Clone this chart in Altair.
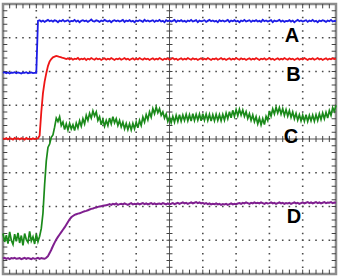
import altair as alt
import pandas as pd

# sample interval of the traces, in horizontal divisions
DT = 0.05

trace_a = [5.96,5.98,5.95,5.97,5.94,5.97,5.96,5.98,5.95,5.97,5.96,5.94,5.97,5.96,5.98,5.95,5.96,5.97,5.95,5.96,5.96,
    7.50,7.52,7.48,7.51,7.47,7.50,7.53,7.49,7.51,7.48,
    7.52,7.50,7.46,7.51,7.49,7.53,7.48,7.50,7.52,7.47,
    7.50,7.49,7.53,7.48,7.51,7.46,7.50,7.52,7.49,7.51,
    7.47,7.50,7.54,7.49,7.48,7.52,7.50,7.47,7.51,7.49,
    7.53,7.50,7.48,7.51,7.46,7.50,7.52,7.49,7.51,7.48,
    7.50,7.53,7.47,7.51,7.49,7.52,7.48,7.50,7.46,7.51,
    7.49,7.52,7.50,7.47,7.53,7.49,7.51,7.48,7.50,7.52,
    7.47,7.51,7.49,7.53,7.48,7.50,7.46,7.52,7.49,7.51,
    7.48,7.50,7.53,7.47,7.51,7.49,7.52,7.48,7.50,7.47,
    7.51,7.49,7.53,7.48,7.50,7.52,7.46,7.51,7.49,7.50,
    7.52,7.47,7.50,7.53,7.49,7.51,7.48,7.50,7.46,7.52,
    7.49,7.51,7.48,7.50,7.53,7.47,7.51,7.49,7.52,7.48,
    7.50,7.46,7.51,7.49,7.53,7.48,7.50,7.52,7.47,7.51,
    7.49,7.52,7.48,7.50,7.47,7.53,7.49,7.51,7.48,7.50,
    7.52,7.46,7.51,7.49,7.50,7.53,7.48,7.51,7.47,7.50,
    7.49,7.52,7.48,7.51,7.46,7.50,7.53,7.49,7.51,7.48,
    7.50,7.52,7.47,7.51,7.49,7.53,7.48,7.50,7.46,7.51,
    7.49,7.52,7.50,7.47,7.51,7.49,7.53,7.48,7.50,7.49]

trace_b = [4.02,4.00,4.03,3.99,4.02,4.01,3.98,4.03,4.00,4.02,3.99,4.02,4.01,3.98,4.03,4.00,4.01,3.99,4.02,4.00,4.01,4.02,
    4.10,4.80,5.36,5.70,5.95,6.16,6.30,6.37,6.42,6.44,6.46,6.45,6.43,6.42,6.40,6.39,6.37,6.39,
    6.36,6.39,6.35,6.38,6.37,6.40,6.35,6.38,6.36,6.39,
    6.34,6.38,6.36,6.40,6.37,6.35,6.39,6.36,6.38,6.34,
    6.37,6.39,6.35,6.38,6.36,6.40,6.37,6.34,6.38,6.36,
    6.39,6.35,6.37,6.40,6.36,6.38,6.34,6.37,6.39,6.35,
    6.38,6.36,6.40,6.37,6.35,6.39,6.36,6.38,6.34,6.37,
    6.39,6.35,6.38,6.36,6.40,6.37,6.34,6.38,6.36,6.39,
    6.35,6.37,6.40,6.36,6.38,6.34,6.37,6.39,6.35,6.38,
    6.36,6.40,6.37,6.35,6.39,6.36,6.38,6.34,6.37,6.39,
    6.35,6.38,6.36,6.40,6.37,6.34,6.38,6.36,6.39,6.35,
    6.37,6.40,6.36,6.38,6.34,6.37,6.39,6.35,6.38,6.36,
    6.40,6.37,6.35,6.39,6.36,6.38,6.34,6.37,6.39,6.35,
    6.38,6.36,6.40,6.37,6.34,6.38,6.36,6.39,6.35,6.37,
    6.40,6.36,6.38,6.34,6.37,6.39,6.35,6.38,6.36,6.40,
    6.37,6.35,6.39,6.36,6.38,6.34,6.37,6.39,6.35,6.38,
    6.36,6.40,6.37,6.34,6.38,6.36,6.39,6.35,6.37,6.40,
    6.36,6.38,6.34,6.37,6.39,6.35,6.38,6.36,6.39,6.37,
    6.38]

trace_c = [1.20,0.95,1.15,0.90,1.25,1.00,0.88,1.18,0.97,1.22,
    0.92,1.14,0.85,1.20,1.02,0.94,1.26,0.98,1.10,0.89,
    1.19,0.96,1.12,
    1.35,1.80,2.65,3.35,3.75,3.85,4.05,4.12,4.35,4.62,4.52,4.66,4.40,4.50,4.28,4.45,4.27,
    4.46,4.30,4.42,4.25,4.47,4.33,4.54,4.38,4.60,4.45,
    4.70,4.55,4.76,4.62,4.83,4.68,4.80,4.55,4.66,4.42,
    4.58,4.38,4.55,4.40,4.62,4.45,4.66,4.48,4.60,4.40,
    4.55,4.36,4.50,4.30,4.46,4.28,4.45,4.27,4.46,4.30,
    4.50,4.33,4.55,4.40,4.65,4.50,4.72,4.57,4.80,4.65,
    4.90,4.75,4.95,4.78,4.90,4.70,4.80,4.62,4.74,4.52,
    4.65,4.48,4.67,4.50,4.70,4.52,4.72,4.53,4.71,4.55,
    4.73,4.54,4.72,4.53,4.75,4.55,4.73,4.56,4.74,4.54,
    4.75,4.56,4.74,4.55,4.73,4.53,4.72,4.54,4.73,4.55,
    4.72,4.54,4.73,4.56,4.77,4.60,4.81,4.63,4.85,4.67,
    4.87,4.69,4.88,4.71,4.86,4.67,4.81,4.61,4.75,4.55,
    4.71,4.51,4.66,4.45,4.62,4.42,4.60,4.43,4.67,4.55,
    4.83,4.68,4.89,4.74,4.94,4.77,4.93,4.74,4.90,4.70,
    4.87,4.68,4.84,4.64,4.80,4.60,4.76,4.56,4.72,4.54,
    4.71,4.53,4.72,4.52,4.70,4.54,4.71,4.53,4.72,4.55,
    4.75,4.58,4.77,4.60,4.79,4.62,4.84,4.70,4.93,4.82,
    5.00]

trace_d = [0.46,0.48,0.45,0.47,0.44,0.47,0.46,0.48,0.45,0.46,
    0.47,0.44,0.46,0.48,0.45,0.47,0.46,0.44,0.47,0.45,
    0.46,0.48,0.45,0.47,0.46,0.45,
    0.48,0.53,0.62,0.72,0.83,0.93,1.02,1.10,1.17,1.24,
    1.31,1.38,1.46,1.54,1.62,1.68,1.72,1.75,1.77,1.79,
    1.80,1.82,1.84,1.86,1.87,1.89,1.91,1.93,1.94,1.96,
    1.97,1.99,2.00,2.01,2.02,2.03,2.04,2.05,
    2.07,2.05,2.08,2.06,2.09,2.05,2.07,2.08,2.06,2.09,
    2.07,2.05,2.08,2.10,2.06,2.08,2.07,2.09,2.06,2.08,
    2.10,2.07,2.09,2.06,2.08,2.10,2.07,2.09,2.06,2.08,
    2.09,2.07,2.10,2.08,2.06,2.09,2.07,2.08,2.10,2.07,
    2.09,2.11,2.08,2.10,2.12,2.09,2.11,2.08,2.10,2.12,
    2.09,2.11,2.13,2.10,2.12,2.09,2.11,2.08,2.10,2.07,
    2.09,2.06,2.08,2.07,2.09,2.06,2.08,2.05,2.07,2.06,
    2.08,2.05,2.07,2.09,2.06,2.08,2.07,2.09,2.10,2.08,
    2.11,2.09,2.12,2.10,2.08,2.11,2.09,2.12,2.10,2.11,
    2.09,2.12,2.10,2.08,2.11,2.09,2.10,2.12,2.09,2.11,
    2.08,2.10,2.12,2.09,2.11,2.08,2.10,2.09,2.11,2.08,
    2.10,2.12,2.09,2.11,2.08,2.10,2.12,2.09,2.11,2.13,
    2.10,2.12,2.09,2.11,2.13,2.10,2.12,2.09,2.11,2.13,
    2.10,2.12,2.11,2.13,2.10,2.12,2.11]

label_text = ["A", "B", "C", "D"]
label_x = [8.68, 8.72, 8.65, 8.74]
label_y = [6.87, 5.72, 3.88, 1.51]

trace_colors = {"A": "#1c1ce6", "B": "#ee1515", "C": "#1a8a1a", "D": "#7f1f8f"}
trace_widths = {"A": 1.8, "B": 1.8, "C": 1.7, "D": 2.0}

# oscilloscope graticule: 10 x 8 divisions, 5 minor ticks per division
N_XDIV, N_YDIV = 10, 8
grid_x = [1, 2, 3, 4, 6, 7, 8, 9]
grid_y = [1, 2, 3, 5, 6, 7]

W, H = 333, 270
xs = alt.Scale(domain=[0, N_XDIV], nice=False, zero=False)
ys = alt.Scale(domain=[0, N_YDIV], nice=False, zero=False)


def trace_df(vals):
    return pd.DataFrame({"t": [round(i * DT, 3) for i in range(len(vals))], "v": vals})


gx_df = pd.DataFrame({"gx": grid_x})
gy_df = pd.DataFrame({"gy": grid_y})

vgrid = alt.Chart(gx_df).mark_rule(color="#4a4a4a", strokeWidth=1.6, strokeDash=[1.6, 5.15],
                                   strokeDashOffset=0.8).encode(
    x=alt.X("gx:Q", scale=xs, axis=None), y=alt.value(0), y2=alt.value(H))
hgrid = alt.Chart(gy_df).mark_rule(color="#4a4a4a", strokeWidth=1.6, strokeDash=[1.6, 5.06],
                                   strokeDashOffset=0.8).encode(
    y=alt.Y("gy:Q", scale=ys, axis=None), x=alt.value(0), x2=alt.value(W))

center_v = alt.Chart(pd.DataFrame({"cx": [N_XDIV / 2]})).mark_rule(color="#555", strokeWidth=1).encode(
    x=alt.X("cx:Q", scale=xs, axis=None), y=alt.value(0), y2=alt.value(H))
center_h = alt.Chart(pd.DataFrame({"cy": [N_YDIV / 2]})).mark_rule(color="#555", strokeWidth=1).encode(
    y=alt.Y("cy:Q", scale=ys, axis=None), x=alt.value(0), x2=alt.value(W))

# minor ticks along bottom / centre / top lines
tx, ty0, ty1 = [], [], []
for k in range(1, N_XDIV * 5):
    p = k * 0.2
    for a, b in [(0, 0.13), (N_YDIV / 2 - 0.09, N_YDIV / 2 + 0.09), (N_YDIV - 0.13, N_YDIV)]:
        tx.append(p); ty0.append(a); ty1.append(b)
ticks_h = alt.Chart(pd.DataFrame({"x": tx, "y0": ty0, "y1": ty1})).mark_rule(color="#444", strokeWidth=1).encode(
    x=alt.X("x:Q", scale=xs, axis=None), y=alt.Y("y0:Q", scale=ys, axis=None), y2="y1:Q")

vy, vx0, vx1 = [], [], []
for k in range(1, N_YDIV * 5):
    p = k * 0.2
    for a, b in [(0, 0.13), (N_XDIV / 2 - 0.09, N_XDIV / 2 + 0.09), (N_XDIV - 0.13, N_XDIV)]:
        vy.append(p); vx0.append(a); vx1.append(b)
ticks_v = alt.Chart(pd.DataFrame({"y": vy, "x0": vx0, "x1": vx1})).mark_rule(color="#444", strokeWidth=1).encode(
    y=alt.Y("y:Q", scale=ys, axis=None), x=alt.X("x0:Q", scale=xs, axis=None), x2="x1:Q")

layers = [vgrid, hgrid, center_v, center_h, ticks_h, ticks_v]
for name, vals in [("A", trace_a), ("B", trace_b), ("C", trace_c), ("D", trace_d)]:
    layers.append(
        alt.Chart(trace_df(vals)).mark_line(color=trace_colors[name], strokeWidth=trace_widths[name],
                                            interpolate="linear").encode(
            x=alt.X("t:Q", scale=xs, axis=None), y=alt.Y("v:Q", scale=ys, axis=None)))

labels = alt.Chart(pd.DataFrame({"x": label_x, "y": label_y, "txt": label_text})).mark_text(
    font="Liberation Sans", fontWeight="bold", fontSize=20, color="black",
    align="center", baseline="alphabetic").encode(
    x=alt.X("x:Q", scale=xs, axis=None), y=alt.Y("y:Q", scale=ys, axis=None), text="txt:N")
layers.append(labels)

chart = alt.layer(*layers).properties(
    width=W, height=H,
    padding={"left": 3, "top": 4, "right": 3, "bottom": 2},
    autosize=alt.AutoSizeParams(type="none"),
    background="white",
).configure_view(stroke="#8c8c8c", strokeWidth=2.5)

chart.save("out.html", embed_options={"renderer": "svg", "actions": False})
